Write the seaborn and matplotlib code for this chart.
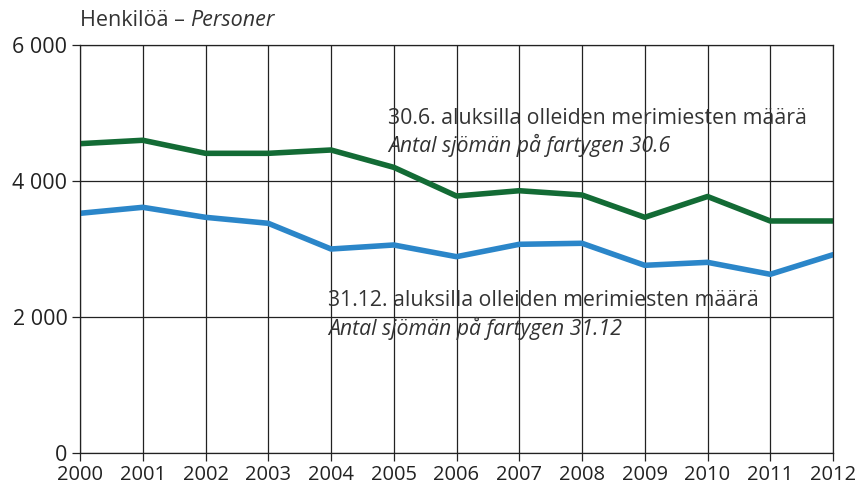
import pandas as pd
import matplotlib
matplotlib.use("Agg")
import matplotlib.pyplot as plt
import seaborn as sns

years = list(range(2000, 2013))
seamen_june = [4549, 4599, 4407, 4407, 4456, 4201, 3779, 3857, 3794, 3466, 3772, 3412, 3412]
seamen_dec = [3525, 3613, 3466, 3378, 3000, 3059, 2887, 3069, 3084, 2760, 2804, 2628, 2916]
series_names = ["30.6", "31.12"]
y_ticks = [0, 2000, 4000, 6000]

df = pd.DataFrame({
    "year": years * 2,
    "value": seamen_june + seamen_dec,
    "series": [series_names[0]] * len(years) + [series_names[1]] * len(years),
})

sns.set_theme(style="white")
plt.rcParams["font.family"] = ["Open Sans", "DejaVu Sans"]

fig = plt.figure(figsize=(8.61, 4.91), dpi=100)
ax = fig.add_axes([80 / 861, 1 - 453 / 491, (833 - 80) / 861, (453 - 45) / 491])

sns.lineplot(data=df, x="year", y="value", hue="series",
             palette={"30.6": "#136b35", "31.12": "#2b86c9"},
             linewidth=4, legend=False, ax=ax)

ax.set_xlim(2000, 2012)
ax.set_ylim(0, 6000)
ax.set_xticks(years)
ax.set_xticklabels([str(y) for y in years], fontsize=14.5)
ax.set_yticks(y_ticks)
ax.set_yticklabels([f"{v:,}".replace(",", " ") for v in y_ticks], fontsize=15.5)
ax.set_xlabel("")
ax.set_ylabel("")

for y in years:
    ax.axvline(y, color="#222222", lw=0.9, zorder=0)
for v in y_ticks:
    ax.axhline(v, color="#222222", lw=0.9, zorder=0)
for s in ax.spines.values():
    s.set_color("#222222")
    s.set_linewidth(0.9)
ax.tick_params(axis="both", which="both", length=6, width=0.9, color="#222222",
               left=True, bottom=True, pad=3, labelcolor="#222222")

txt = "#333333"
ax.text(2004.91, 4926, "30.6. aluksilla olleiden merimiesten määrä", fontsize=15.3,
        color=txt, va="center", ha="left")
ax.text(2004.91, 4529, "Antal sjömän på fartygen 30.6", fontsize=15.3, style="italic",
        color=txt, va="center", ha="left")
ax.text(2003.95, 2250, "31.12. aluksilla olleiden merimiesten määrä", fontsize=15.3,
        color=txt, va="center", ha="left")
ax.text(2003.95, 1838, "Antal sjömän på fartygen 31.12", fontsize=15.3, style="italic",
        color=txt, va="center", ha="left")

t1 = fig.text(80 / 861, 1 - 20 / 491, "Henkilöä – ", fontsize=15.5, color=txt,
              va="center", ha="left")
r = fig.canvas.get_renderer()
bb = t1.get_window_extent(renderer=r)
fig.text(bb.x1 / fig.bbox.width, 1 - 20 / 491, "Personer", fontsize=15.5, style="italic",
         color=txt, va="center", ha="left")

fig.savefig("out.png", dpi=100)
